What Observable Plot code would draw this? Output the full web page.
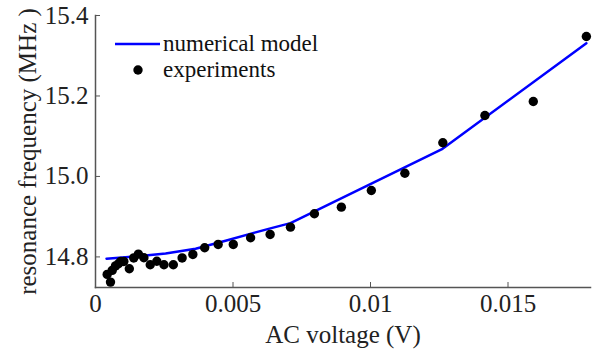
<!DOCTYPE html>
<html>
<head>
<meta charset="utf-8">
<script src="https://cdn.jsdelivr.net/npm/d3@7"></script>
<script src="https://cdn.jsdelivr.net/npm/@observablehq/plot@0.6"></script>
<style>
  body { margin: 0; background: #fff; }
  #wrap { position: relative; width: 592px; height: 357px; font-family: 'Liberation Serif', 'Times New Roman', serif; }
  #legend { position: absolute; left: 113px; top: 31px; font-size: 23px; color: #111; line-height: 26px; }
  #legend .row { display: flex; align-items: center; height: 26px; }
  #legend svg { width: 50px; height: 26px; }
  #chart svg text { font-family: 'Liberation Serif', 'Times New Roman', serif; }
</style>
</head>
<body>
<div id="wrap">
  <div id="chart"></div>
  <div id="legend">
    <div class="row"><svg><line x1="2" x2="47" y1="13" y2="13" stroke="#0000ff" stroke-width="2.5"/></svg><span>numerical model</span></div>
    <div class="row"><svg><circle cx="25" cy="13" r="4.7" fill="#000"/></svg><span>experiments</span></div>
  </div>
</div>
<script>
// Experimental points
const expVoltage = [0.000425, 0.000545, 0.000607, 0.000727, 0.000836, 0.000920, 0.001030, 0.00123, 0.00139, 0.00156, 0.00176, 0.00199, 0.00223, 0.00249, 0.00283, 0.00315, 0.00354, 0.00397, 0.00446, 0.00501, 0.00564, 0.00635, 0.00709, 0.00796, 0.00894, 0.01003, 0.01125, 0.01263, 0.01416, 0.01592, 0.01785];
const expFreq = [14.7565, 14.7374, 14.7665, 14.7776, 14.7831, 14.7888, 14.7888, 14.7707, 14.7975, 14.8070, 14.7980, 14.7806, 14.7893, 14.7806, 14.7806, 14.7975, 14.8062, 14.8229, 14.8310, 14.8310, 14.8477, 14.8559, 14.8740, 14.9073, 14.9237, 14.9650, 15.0080, 15.0837, 15.1515, 15.1863, 15.3477];
// Numerical model
const modelVoltage = [0.0004, 0.00109, 0.00182, 0.00255, 0.00364, 0.00473, 0.00582, 0.00636, 0.00709, 0.01262, 0.01785];
const modelFreq = [14.7955, 14.7993, 14.8037, 14.8087, 14.8204, 14.8403, 14.8610, 14.8710, 14.8840, 15.0688, 15.3310];
// Axes
const xTicks = [0, 0.005, 0.01, 0.015];
const yTicks = [14.8, 15.0, 15.2, 15.4];
const xDomain = [0, 0.018];
const yDomain = [14.724, 15.4];

const expData = expVoltage.map((v, i) => ({v, f: expFreq[i]}));
const modelData = modelVoltage.map((v, i) => ({v, f: modelFreq[i]}));

const chart = Plot.plot({
  width: 592,
  height: 357,
  marginLeft: 95,
  marginRight: 2,
  marginTop: 15,
  marginBottom: 70,
  style: {fontFamily: "'Liberation Serif', 'Times New Roman', serif", fontSize: "25px", color: "#222", background: "#fff"},
  x: {domain: xDomain},
  y: {domain: yDomain},
  marks: [
    Plot.frame({anchor: "left", stroke: "#555", strokeWidth: 1.5}),
    Plot.frame({anchor: "bottom", stroke: "#555", strokeWidth: 1.5}),
    Plot.axisX({ticks: xTicks, tickSize: -5, tickPadding: 12, tickFormat: d => String(d), stroke: "#555",
      label: "AC voltage (V)", labelAnchor: "center", labelArrow: "none", labelOffset: 55}),
    Plot.axisY({ticks: yTicks, tickSize: -5, tickPadding: 12, tickFormat: d3.format(".1f"), stroke: "#555",
      label: "resonance frequency (MHz )", labelAnchor: "center", labelArrow: "none", labelOffset: 77}),
    Plot.line(modelData, {x: "v", y: "f", stroke: "#0000ff", strokeWidth: 2.5}),
    Plot.dot(expData, {x: "v", y: "f", r: 4.7, fill: "#000"})
  ]
});
document.getElementById("chart").appendChild(chart);
</script>
</body>
</html>
